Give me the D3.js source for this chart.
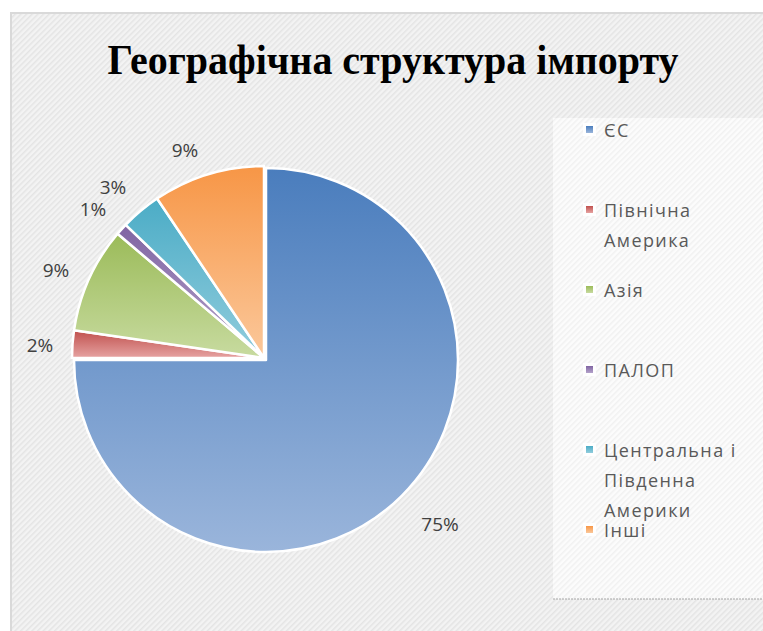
<!DOCTYPE html>
<html>
<head>
<meta charset="utf-8">
<script src="https://cdn.jsdelivr.net/npm/d3@7"></script>
<style>
  body { margin: 0; background: #fff; }
  svg { display: block; }
</style>
</head>
<body>
<div id="chart"></div>
<script>
// DATA
let regions = ['ЄС', 'Північна Америка', 'Азія', 'ПАЛОП', 'Центральна і Південна Америки', 'Інші'];
let legendLines = [['ЄС'], ['Північна', 'Америка'], ['Азія'], ['ПАЛОП'], ['Центральна і', 'Південна', 'Америки'], ['Інші']];
let shares = [75.0, 2.3, 8.9, 1.0, 3.4, 9.4];
let topColors = ['#4a7dbd', '#c0504d', '#9bbb59', '#8064a2', '#4bacc6', '#f79646'];
let bottomColors = ['#9ab5db', '#e6a3a2', '#c8dba0', '#b4a3cb', '#92cddd', '#fbc89b'];

let width = 763, height = 631;
let cx = 264, cy = 358, radius = 192;

let svg = d3.select('#chart').append('svg')
    .attr('width', width)
    .attr('height', height);

let defs = svg.append('defs');

// hatch patterns for chart area and legend
function hatch(id, base, line) {
    let p = defs.append('pattern')
        .attr('id', id)
        .attr('patternUnits', 'userSpaceOnUse')
        .attr('width', 4).attr('height', 4)
        .attr('patternTransform', 'rotate(45)');
    p.append('rect').attr('width', 4).attr('height', 4).attr('fill', base);
    p.append('rect').attr('width', 1.5).attr('height', 4).attr('fill', line);
}
hatch('bgHatch', '#f3f3f3', '#e4e4e4');
hatch('lgHatch', '#fcfcfc', '#f1f1f1');

// slice gradients
shares.forEach((d, i) => {
    let g = defs.append('linearGradient')
        .attr('id', 'grad' + i)
        .attr('x1', 0).attr('y1', 0).attr('x2', 0).attr('y2', 1);
    g.append('stop').attr('offset', '0%').attr('stop-color', topColors[i]);
    g.append('stop').attr('offset', '100%').attr('stop-color', bottomColors[i]);
});

// chart area
svg.append('rect')
    .attr('x', 11).attr('y', 13)
    .attr('width', width).attr('height', height)
    .attr('fill', 'url(#bgHatch)')
    .attr('stroke', '#d9d9d9')
    .attr('stroke-width', 2);

// title
svg.append('text')
    .attr('x', 393).attr('y', 74)
    .attr('text-anchor', 'middle')
    .attr('textLength', 571)
    .attr('lengthAdjust', 'spacingAndGlyphs')
    .style('font-family', '"Liberation Serif", serif')
    .style('font-weight', 'bold')
    .style('font-size', '43px')
    .attr('fill', '#000')
    .text('Географічна структура імпорту');

// pie
let pie = d3.pie().sort(null).value(d => d);
let arcs = pie(shares);
let arc = d3.arc().innerRadius(0).outerRadius(radius);

let pieG = svg.append('g').attr('transform', `translate(${cx},${cy})`);

pieG.selectAll('path')
    .data(arcs)
    .enter()
    .append('path')
    .attr('d', arc)
    .attr('transform', (d, i) => i === 0 ? 'translate(2,2)' : null)
    .attr('fill', (d, i) => 'url(#grad' + i + ')')
    .attr('stroke', '#fff')
    .attr('stroke-width', 2.5)
    .attr('stroke-linejoin', 'round');

// data labels (outside end)
let labelOffsets = [[176, 173], [-224, -6], [-208, -81], [-171, -142], [-151, -164], [-79, -201]];
pieG.selectAll('.lbl')
    .data(arcs)
    .enter()
    .append('text')
    .attr('class', 'lbl')
    .attr('x', (d, i) => labelOffsets[i][0])
    .attr('y', (d, i) => labelOffsets[i][1])
    .attr('text-anchor', 'middle')
    .style('font-family', '"Open Sans", sans-serif')
    .style('font-size', '19px')
    .attr('fill', '#404040')
    .text(d => Math.round(d.data) + '%');

// legend
let lg = svg.append('g');
lg.append('rect')
    .attr('x', 553).attr('y', 118)
    .attr('width', 230).attr('height', 481)
    .attr('fill', 'url(#lgHatch)');
lg.append('line')
    .attr('x1', 553).attr('x2', 763)
    .attr('y1', 599).attr('y2', 599)
    .attr('stroke', '#a6a6a6')
    .attr('stroke-dasharray', '2,1');

let legendY = [137, 217, 297, 377, 457, 537];
let lineGap = 30;

let items = lg.selectAll('.item')
    .data(regions)
    .enter()
    .append('g')
    .attr('class', 'item');

items.append('rect')
    .attr('x', 583).attr('y', (d, i) => legendY[i] - 14)
    .attr('width', 13).attr('height', 13)
    .attr('fill', '#fff');
items.append('rect')
    .attr('x', 586).attr('y', (d, i) => legendY[i] - 11)
    .attr('width', 7).attr('height', 7)
    .attr('fill', (d, i) => 'url(#grad' + i + ')');

items.append('text')
    .attr('x', 604)
    .attr('y', (d, i) => legendY[i])
    .style('font-family', '"Open Sans", sans-serif')
    .style('font-size', '18px')
    .style('letter-spacing', '1.4px')
    .attr('fill', '#595959')
    .selectAll('tspan')
    .data((d, i) => legendLines[i])
    .enter()
    .append('tspan')
    .attr('x', 604)
    .attr('dy', (d, j) => j === 0 ? 0 : lineGap)
    .text(d => d);
</script>
</body>
</html>
